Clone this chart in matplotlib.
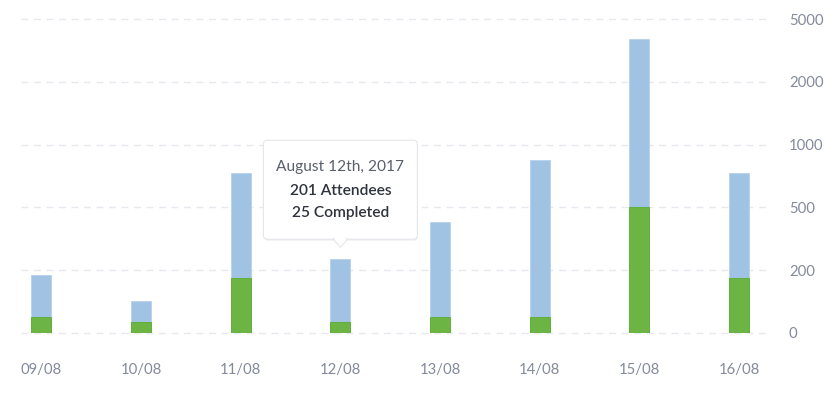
import numpy as np
import matplotlib
matplotlib.use("Agg")
import matplotlib.pyplot as plt
from matplotlib.patches import FancyBboxPatch, Polygon
from matplotlib.transforms import IdentityTransform

# data
days = ["09/08", "10/08", "11/08", "12/08", "13/08", "14/08", "15/08", "16/08"]
attendees = [185, 100, 770, 254, 430, 880, 4050, 770]
completed = [50, 33, 175, 33, 50, 50, 500, 175]
y_ticks = [0, 200, 500, 1000, 2000, 5000]

tip_index = 3
tip_lines = ["August 12th, 2017", "201 Attendees", "25 Completed"]

BLUE = "#a0c3e4"
GREEN = "#6cb544"
GREEN_EDGE = "#5aad2c"
GRID = "#e6e9ef"
LABEL = "#838a9b"

plt.rcParams["font.family"] = ["Lato", "DejaVu Sans"]

steps = np.arange(len(y_ticks), dtype=float)


def fwd(v):
    return np.interp(v, y_ticks, steps)


def inv(u):
    return np.interp(u, steps, y_ticks)


fig = plt.figure(figsize=(8.34, 3.94), dpi=100)
ax = fig.add_axes([20.7 / 834, 1 - 332.7 / 394, 747.3 / 834, (332.7 - 19.3) / 394])
ax.set_yscale("function", functions=(fwd, inv))
ax.set_ylim(0, 5000)
ax.set_xlim(-0.208, 7.29)

x = np.arange(len(days))
ax.bar(x, attendees, width=0.2, color=BLUE, edgecolor="#b5d2ec", linewidth=0.6, zorder=2)
ax.bar(x, completed, width=0.2, color=GREEN, edgecolor=GREEN_EDGE, linewidth=0.6, zorder=3)

for t in y_ticks:
    ax.axhline(t, color=GRID, lw=1, ls=(0, (5, 4)), zorder=1, clip_on=False)

for s in ax.spines.values():
    s.set_visible(False)

ax.yaxis.tick_right()
ax.set_yticks(y_ticks)
ax.set_yticklabels([str(t) for t in y_ticks])
ax.yaxis.set_minor_locator(matplotlib.ticker.NullLocator())
ax.tick_params(axis="y", length=0, pad=15, labelsize=10.7, labelcolor=LABEL)
for lab in ax.get_yticklabels():
    lab.set_horizontalalignment("left")

ax.set_xticks(x)
ax.set_xticklabels(days)
ax.tick_params(axis="x", length=0, pad=22, labelsize=10.7, labelcolor=LABEL)

# tooltip above the hovered bar, in pixel offsets from the bar top
fig.canvas.draw()
bx, by = ax.transData.transform((x[tip_index], attendees[tip_index]))
tip_y = by + 11.5
box_w, box_h = 154, 99
box_x0 = bx - box_w / 2
box_y0 = tip_y + 8

shadow = FancyBboxPatch((box_x0 + 0.5, box_y0 - 1.5), box_w, box_h,
                        boxstyle="round,pad=0,rounding_size=4",
                        transform=IdentityTransform(), facecolor="#000000",
                        alpha=0.06, edgecolor="none", zorder=5)
box = FancyBboxPatch((box_x0, box_y0), box_w, box_h,
                     boxstyle="round,pad=0,rounding_size=4",
                     transform=IdentityTransform(), facecolor="white",
                     edgecolor="#e4e6ea", linewidth=0.8, zorder=6)
arrow = Polygon([(bx - 7.5, box_y0 + 0.6), (bx, tip_y), (bx + 7.5, box_y0 + 0.6)],
                closed=True, transform=IdentityTransform(), facecolor="white",
                edgecolor="#e4e6ea", linewidth=0.8, zorder=7)
cover = Polygon([(bx - 6.5, box_y0 + 1.2), (bx, tip_y + 1.2), (bx + 6.5, box_y0 + 1.2)],
                closed=True, transform=IdentityTransform(), facecolor="white",
                edgecolor="none", zorder=8)
for p in (shadow, box, arrow, cover):
    fig.add_artist(p)

fig.text(bx, box_y0 + 72, tip_lines[0], transform=IdentityTransform(),
         ha="center", va="center", fontsize=11.2, color="#5a5f6b", zorder=9)
fig.text(bx, box_y0 + 48, tip_lines[1], transform=IdentityTransform(),
         ha="center", va="center", fontsize=11.2, color="#2f333d",
         fontweight="semibold", zorder=9)
fig.text(bx, box_y0 + 26, tip_lines[2], transform=IdentityTransform(),
         ha="center", va="center", fontsize=11.2, color="#2f333d",
         fontweight="semibold", zorder=9)

fig.savefig("out.png", dpi=100, facecolor="white")
